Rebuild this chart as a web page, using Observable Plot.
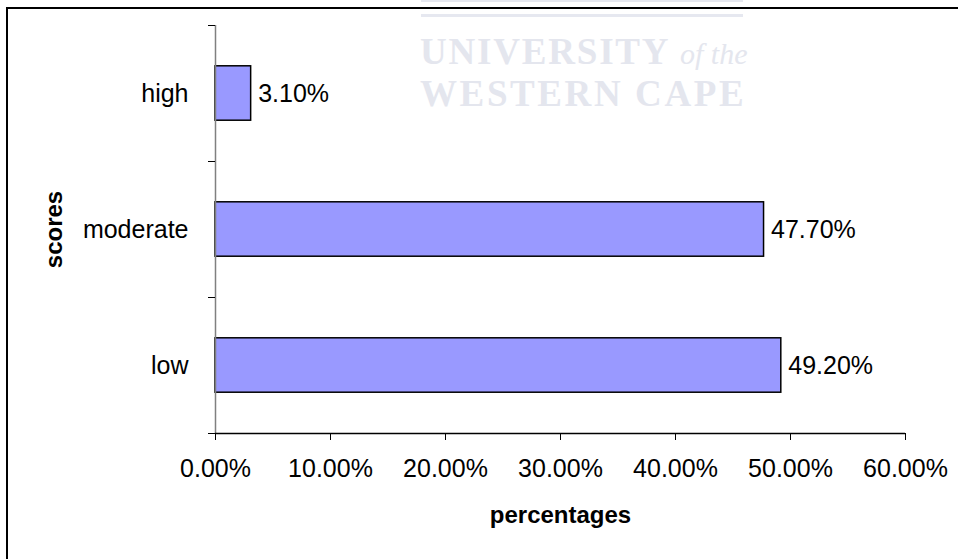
<!DOCTYPE html>
<html>
<head>
<meta charset="utf-8">
<script src="https://cdn.jsdelivr.net/npm/d3@7"></script>
<script src="https://cdn.jsdelivr.net/npm/@observablehq/plot@0.6"></script>
<style>
  html, body { margin: 0; padding: 0; background: #fff; overflow: hidden; width: 958px; height: 559px; }
  #wrap { position: relative; width: 958px; height: 559px; }
  #frame { position: absolute; left: 6px; top: 7px; width: 1200px; height: 800px; border-left: 2px solid #000; border-top: 2px solid #000; pointer-events: none; }
  #wm-box { position: absolute; left: 421px; top: 0px; width: 322px; height: 12px; border-top: 2px solid #e6e8f0; border-bottom: 3px solid #e6e8f0; }
  .wm { position: absolute; left: 420px; font-family: "Liberation Serif", "DejaVu Serif", serif; font-weight: bold; color: #e4e6ee; font-size: 37px; white-space: nowrap; }
  .wm i { font-size: 30px; font-weight: normal; }
  #chart { position: absolute; left: 0; top: 0; }
</style>
</head>
<body>
<div id="wrap">
  <div id="wm-box"></div>
  <div class="wm" style="top:30px; letter-spacing:1.8px">UNIVERSITY <i style="letter-spacing:0">of the</i></div>
  <div class="wm" style="top:72px; letter-spacing:2.6px">WESTERN CAPE</div>
  <div id="chart"></div>
  <div id="frame"></div>
</div>
<script>
const categories = ["low", "moderate", "high"];
const values = [49.2, 47.7, 3.1];
const valueLabels = ["49.20%", "47.70%", "3.10%"];
const xTicks = [0, 10, 20, 30, 40, 50, 60];
const xTitle = "percentages";
const yTitle = "scores";

const data = categories.map((c, i) => ({cat: c, i, value: values[i], label: valueLabels[i]}));
const font = "'Liberation Sans', Arial, sans-serif";

const chart = Plot.plot({
  width: 958,
  height: 559,
  marginLeft: 215,
  marginRight: 53,
  marginTop: 25,
  marginBottom: 126,
  style: {fontFamily: font, fontSize: "25px", background: "transparent", color: "#000"},
  x: {domain: [0, 60]},
  y: {domain: [0, categories.length]},
  marks: [
    Plot.rectX(data, {x1: 0, x2: "value", y1: d => d.i + 0.3, y2: d => d.i + 0.7, fill: "#9999FF", stroke: "#000", strokeWidth: 1.5}),
    Plot.text(data, {x: "value", y: d => d.i + 0.5, text: "label", textAnchor: "start", dx: 7, fontSize: 25, fill: "#000"}),
    Plot.ruleX([0], {y1: 0, y2: categories.length, stroke: "#808080", strokeWidth: 1.5}),
    Plot.ruleY([0], {x1: 0, x2: 60, stroke: "#000", strokeWidth: 1.5}),
    Plot.axisX({ticks: xTicks, tickSize: 7, tickPadding: 19, tickFormat: d => d.toFixed(2) + "%", label: null, fontSize: 25, stroke: "#000"}),
    Plot.axisY({ticks: d3.range(categories.length + 1), tickSize: 7, tickFormat: () => "", label: null, stroke: "#000"}),
    Plot.axisY({ticks: categories.map((c, i) => i + 0.5), tickSize: 0, tickPadding: 27, tickFormat: d => categories[Math.floor(d)], label: null, fontSize: 25}),
    Plot.text([xTitle], {frameAnchor: "bottom", dy: 82, text: d => d, textAnchor: "middle", fontWeight: "bold", fontSize: 24, fill: "#000", lineAnchor: "middle", style: {letterSpacing: "1.3px"}}),
    Plot.text([yTitle], {frameAnchor: "left", dx: -161, rotate: -90, text: d => d, textAnchor: "middle", fontWeight: "bold", fontSize: 24, fill: "#000", lineAnchor: "middle", style: {letterSpacing: "1.3px"}})
  ]
});
document.getElementById("chart").appendChild(chart);
</script>
</body>
</html>
